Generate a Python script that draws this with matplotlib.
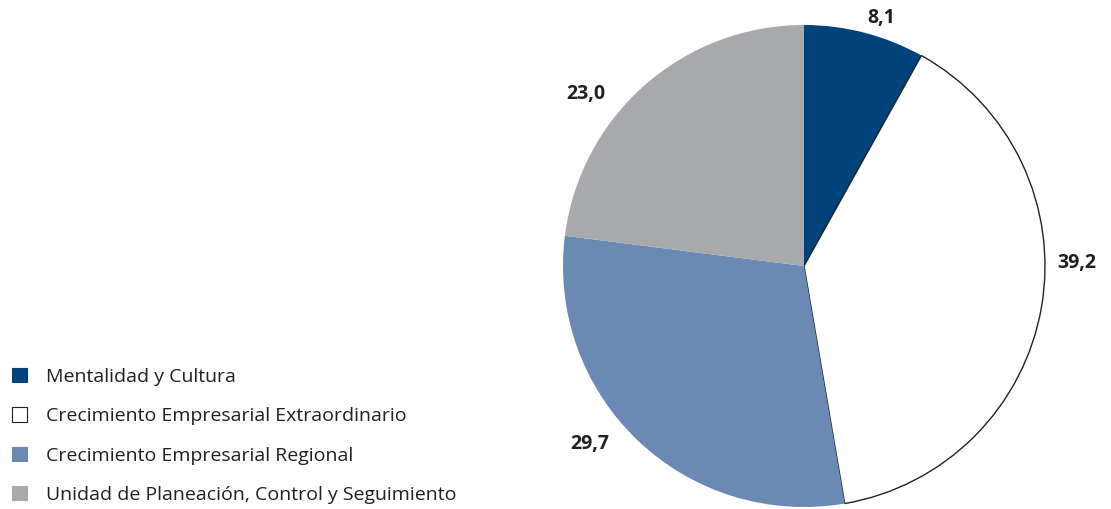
import matplotlib
matplotlib.use('Agg')
import matplotlib.pyplot as plt
from matplotlib.patches import Patch

plt.rcParams['font.family'] = ['Open Sans', 'DejaVu Sans']

categories = ['Mentalidad y Cultura',
              'Crecimiento Empresarial Extraordinario',
              'Crecimiento Empresarial Regional',
              'Unidad de Planeación, Control y Seguimiento']
values = [8.1, 39.2, 29.7, 23.0]
value_labels = ['8,1', '39,2', '29,7', '23,0']
colors = ['#00427a', '#ffffff', '#6a8ab3', '#a7a9ac']

fig = plt.figure(figsize=(11.11, 5.09), dpi=100)
ax = fig.add_axes([0, 0, 1, 1])

# pie drawn in pixel-like coordinates
cx, cy, r = 804, 243, 241
wedges, _ = ax.pie(values, colors=colors, startangle=90, counterclock=False,
                   center=(cx, cy), radius=r, frame=True)
ax.set_xlim(0, 1111)
ax.set_ylim(0, 509)
ax.set_aspect('equal')
ax.axis('off')
for w in wedges:
    w.set_linewidth(0)
wedges[1].set_edgecolor('#222222')
wedges[1].set_linewidth(1.0)

# value labels around the pie
label_pos = [(881, 491), (1077, 246), (590, 65), (586, 415)]
for (x, y), t in zip(label_pos, value_labels):
    ax.text(x, y, t, ha='center', va='center', fontsize=14,
            fontweight='bold', color='#231f20')

handles = [Patch(facecolor=c, edgecolor='#231f20' if c == '#ffffff' else c,
                 linewidth=0.8) for c in colors]
leg = ax.legend(handles, categories, loc='lower left',
                bbox_to_anchor=(12 / 1111, 5 / 509), frameon=False,
                fontsize=14, borderpad=0, borderaxespad=0,
                handlelength=0.77, handleheight=0.77, handletextpad=0.98,
                labelspacing=1.1, labelcolor='#231f20')

fig.savefig('out.png', dpi=100)
